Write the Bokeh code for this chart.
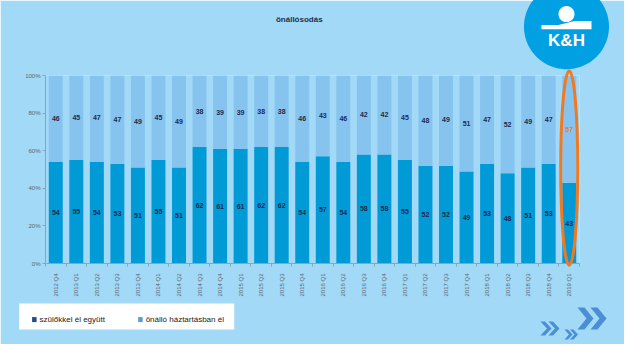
import numpy as np
from bokeh.plotting import figure
from bokeh.models import Range1d, ColumnDataSource, FixedTicker, PrintfTickFormatter
from bokeh.core.properties import value
from bokeh.embed import file_html
from bokeh.resources import INLINE

# ---------------- data ----------------
quarters = ["2012 Q4",
            "2013 Q1", "2013 Q2", "2013 Q3", "2013 Q4",
            "2014 Q1", "2014 Q2", "2014 Q3", "2014 Q4",
            "2015 Q1", "2015 Q2", "2015 Q3", "2015 Q4",
            "2016 Q1", "2016 Q2", "2016 Q3", "2016 Q4",
            "2017 Q1", "2017 Q2", "2017 Q3", "2017 Q4",
            "2018 Q1", "2018 Q2", "2018 Q3", "2018 Q4",
            "2019 Q1"]
with_parents = [54, 55, 54, 53, 51, 55, 51, 62, 61, 61, 62, 62, 54,
                57, 54, 58, 58, 55, 52, 52, 49, 53, 48, 51, 53, 43]
own_household = [46, 45, 47, 47, 49, 45, 49, 38, 39, 39, 38, 38, 46,
                 43, 46, 42, 42, 45, 48, 49, 51, 47, 52, 49, 47, 57]
series_names = ["szülőkkel él együtt", "önálló háztartásban él"]
title_text = "önállósodás"
logo_text = "K&H"
y_ticks = [0, 20, 40, 60, 80, 100]

# ---------------- style ----------------
BG = "#a2d9f6"
DARK = "#009ad6"
LIGHT = "#86c4ef"
LABEL = "#1c2b4e"
ORANGE = "#f07a22"
LOGO = "#00a0e3"
CHEV = "#4a8fd6"
AXIS = "#8fa3b5"
LEG_COLORS = ["#1f4e8c", "#5b9bd5"]
FONT = "Liberation Sans"

W, H = 624, 344
# frame geometry in page pixels
FL, FR, FT, FB = 53.4, 587.0, 83.3, 271.0

n = len(quarters)
xi = list(range(n))

p = figure(x_range=Range1d(-0.5, n - 0.5), y_range=Range1d(0, 100),
           width=W, height=H, output_backend="svg", toolbar_location=None,
           min_border_left=int(round(FL - 8)), min_border_right=int(round(W + 8 - FR)),
           min_border_top=int(round(FT - 8)), min_border_bottom=int(round(H + 8 - FB)))
p.background_fill_color = BG
p.border_fill_color = BG
p.outline_line_color = None
p.xgrid.grid_line_color = None
p.ygrid.grid_line_color = None
# a page-pixel coordinate system for decorations (page y grows downward)
p.extra_x_ranges = {"px": Range1d(FL, FR)}
p.extra_y_ranges = {"px": Range1d(FB, FT)}

src = ColumnDataSource(dict(
    x=xi, a=with_parents, b=own_household,
    top_b=[x + y for x, y in zip(with_parents, own_household)],
    ya=[x / 2 for x in with_parents],
    yb=[x + y / 2 for x, y in zip(with_parents, own_household)],
    ta=[str(v) for v in with_parents],
    tb=[str(v) for v in own_household],
    cb=[LABEL] * (n - 1) + [ORANGE],
))

p.vbar(x="x", bottom=0, top="a", width=0.68, source=src, fill_color=DARK, line_color=None)
p.vbar(x="x", bottom="a", top="top_b", width=0.68, source=src, fill_color=LIGHT, line_color=None)

p.text(x="x", y="ya", text="ta", source=src, text_align="center", text_baseline="middle",
       text_font=value(FONT), text_font_size="7px", text_font_style="bold", text_color=LABEL)
p.text(x="x", y="yb", text="tb", source=src, text_align="center", text_baseline="middle",
       text_font=value(FONT), text_font_size="7px", text_font_style="bold", text_color="cb")

# axes
p.yaxis.ticker = FixedTicker(ticks=y_ticks)
p.yaxis.formatter = PrintfTickFormatter(format="%d%%")
p.yaxis.axis_line_color = AXIS
p.yaxis.major_tick_line_color = AXIS
p.yaxis.major_tick_out = 3
p.yaxis.major_tick_in = 0
p.yaxis.minor_tick_line_color = None
p.yaxis.major_label_text_font = FONT
p.yaxis.major_label_text_font_size = "6px"
p.yaxis.major_label_text_color = "#5d6470"
p.yaxis.major_label_standoff = 2

p.xaxis.ticker = FixedTicker(ticks=xi, minor_ticks=[i - 0.5 for i in xi] + [n - 0.5])
p.xaxis.major_label_overrides = {i: q for i, q in zip(xi, quarters)}
p.xaxis.axis_line_color = AXIS
p.xaxis.major_tick_line_color = None
p.xaxis.minor_tick_line_color = AXIS
p.xaxis.minor_tick_out = 3
p.xaxis.minor_tick_in = 0
p.xaxis.major_label_orientation = np.pi / 2
p.xaxis.major_label_text_font = FONT
p.xaxis.major_label_text_font_size = "6px"
p.xaxis.major_label_text_color = "#5d6470"
p.xaxis.major_label_standoff = 4

# orange ellipse highlighting the last quarter
p.ellipse(x=[xi[-1]], y=[50.8], width=0.83, height=103.7, fill_color=None,
          line_color=ORANGE, line_width=3, level="overlay")

# ---------------- decorations in page pixels ----------------
deco = dict(x_range_name="px", y_range_name="px", level="overlay")
t = np.linspace(0, 2 * np.pi, 90)


def disc(cx, cy, r, color):
    p.patch(x=list(cx + r * np.cos(t)), y=list(cy + r * np.sin(t)), fill_color=color, line_color=None, **deco)


# logo
disc(574, 34.5, 42.5, LOGO)
disc(574, 22, 8, "white")
p.patch(x=[549, 599, 599, 582, 574, 566, 549], y=[37, 37, 29, 29, 31, 33, 33],
        fill_color="white", line_color=None, **deco)
p.text(x=[574], y=[48], text=[logo_text], text_align="center", text_baseline="middle",
       text_color="white", text_font=value(FONT), text_font_size="17px", text_font_style="bold", **deco)

# title
p.text(x=[307], y=[27], text=[title_text], text_align="center", text_baseline="middle",
       text_color="#1f3050", text_font=value(FONT), text_font_size="8px", text_font_style="bold", **deco)


# chevrons
def chevron(x0, y0, w, h, tck):
    ym = y0 + h / 2
    p.patch(x=[x0, x0 + tck, x0 + w, x0 + tck, x0, x0 + w - tck],
            y=[y0, y0, ym, y0 + h, y0 + h, ym], fill_color=CHEV, line_color=None, **deco)


for (x0, y0, w, h, tck, off) in [(585, 315, 16, 22, 7, 13), (548, 329, 11, 14, 4.5, 8),
                                 (572, 337, 8, 10, 3.5, 5.5)]:
    for o in (0, off):
        chevron(x0 + o, y0, w, h, tck)

# legend box
p.quad(left=[27], right=[242], top=[311], bottom=[337], fill_color="white", line_color=None, **deco)
p.quad(left=[40, 146], right=[44.5, 150.5], top=[324.5, 324.5], bottom=[329.5, 329.5],
       fill_color=LEG_COLORS, line_color=None, **deco)
p.text(x=[47.5, 153.5], y=[327, 327], text=series_names, text_align="left", text_baseline="middle",
       text_color="#222222", text_font=value(FONT), text_font_size="8px", **deco)

open("out.html", "w").write(file_html(p, INLINE))
